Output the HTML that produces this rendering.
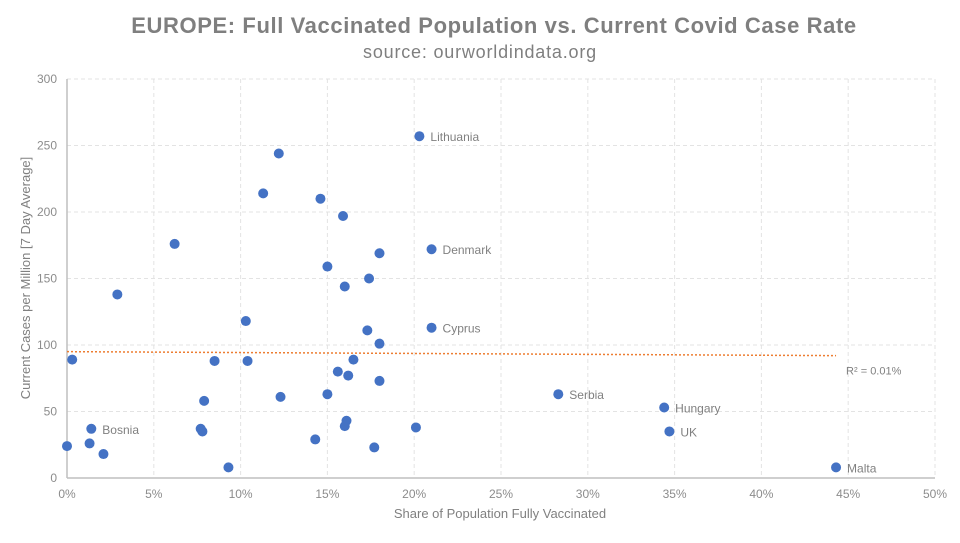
<!DOCTYPE html>
<html><head><meta charset="utf-8"><style>
body{margin:0;background:#fff;font-family:"Liberation Sans",sans-serif;}
svg text{font-family:"Liberation Sans",sans-serif;}
</style></head><body>
<svg id="chart" width="960" height="538">
<text x="494" y="33" text-anchor="middle" font-size="22" font-weight="bold" fill="#7f7f7f" letter-spacing="0.6">EUROPE: Full Vaccinated Population vs. Current Covid Case Rate</text>
<text x="480" y="58" text-anchor="middle" font-size="18" fill="#7f7f7f" letter-spacing="0.8">source: ourworldindata.org</text>
<g id="grid"></g><g id="axes"></g><g id="marks"></g>
<text x="500" y="518" text-anchor="middle" font-size="13" fill="#808080">Share of Population Fully Vaccinated</text>
<text transform="translate(30,278) rotate(-90)" text-anchor="middle" font-size="13" fill="#808080">Current Cases per Million [7 Day Average]</text>
</svg>
<script>
const xVals=[0,0.3,1.3,1.4,2.1,2.9,6.2,7.7,7.8,7.9,8.5,9.3,10.3,10.4,11.3,12.2,12.3,14.3,14.6,15.0,15.0,15.6,15.9,16.0,16.0,16.1,16.2,16.5,17.3,17.4,17.7,18.0,18.0,18.0,20.1,20.3,21.0,21.0,28.3,34.4,34.7,44.3];
const yVals=[24,89,26,37,18,138,176,37,35,58,88,8,118,88,214,244,61,29,210,159,63,80,197,144,39,43,77,89,111,150,23,169,101,73,38,257,172,113,63,53,35,8];
const labels=["","","","Bosnia","","","","","","","","","","","","","","","","","","","","","","","","","","","","","","","","Lithuania","Denmark","Cyprus","Serbia","Hungary","UK","Malta"];
const xTicks=[0,5,10,15,20,25,30,35,40,45,50];
const yTicks=[0,50,100,150,200,250,300];
const trend=[95,92];
const trendX=[0,44.3];
const X0=67,X1=935,Y0=478,Y1=79;
const sx=v=>X0+(X1-X0)*v/50, sy=v=>Y0-(Y0-Y1)*v/300;
const NS="http://www.w3.org/2000/svg";
function mk(t,a,p){const e=document.createElementNS(NS,t);for(const k in a)e.setAttribute(k,a[k]);p.appendChild(e);return e;}
const grid=document.getElementById('grid'),axes=document.getElementById('axes'),marks=document.getElementById('marks');
yTicks.forEach(v=>{
 if(v>0){const l=mk('line',{x1:X0,x2:X1,y1:sy(v),y2:sy(v),stroke:'#e3e3e3','stroke-dasharray':'4,3'},grid);
 
 }
 const t=mk('text',{x:X0-10,y:sy(v)+4,'text-anchor':'end','font-size':12,fill:'#8c8c8c'},axes);t.textContent=v;
 
 
});
xTicks.forEach(v=>{
 if(v>0){const l=mk('line',{x1:sx(v),x2:sx(v),y1:Y1,y2:Y0,stroke:'#e3e3e3','stroke-dasharray':'4,3'},grid);
 
 }
 const t=mk('text',{x:sx(v),y:Y0+20,'text-anchor':'middle','font-size':12,fill:'#8c8c8c'},axes);t.textContent=v+'%';
 
 
});
const ax=mk('line',{x1:X0,x2:X1,y1:Y0,y2:Y0,stroke:'#bfbfbf','stroke-width':1.5},axes);


const ay=mk('line',{x1:X0,x2:X0,y1:Y1,y2:Y0,stroke:'#bfbfbf','stroke-width':1.5},axes);


const tl=mk('line',{x1:sx(trendX[0]),x2:sx(trendX[1]),y1:sy(trend[0]),y2:sy(trend[1]),stroke:'#ed7d31','stroke-width':1.5,'stroke-dasharray':'2,2'},marks);


const r2=mk('text',{x:sx(trendX[1])+10,y:sy(trend[1])+19,'font-size':11,fill:'#808080'},marks);r2.textContent='R² = 0.01%';


xVals.forEach((x,i)=>{
 const c=mk('circle',{cx:sx(x),cy:sy(yVals[i]),r:5,fill:'#4472c4'},marks);
 
 
 if(labels[i]){const t=mk('text',{x:sx(x)+11,y:sy(yVals[i])+5,'font-size':12,fill:'#808080'},marks);t.textContent=labels[i];
 
 }
});
</script>
</body></html>
